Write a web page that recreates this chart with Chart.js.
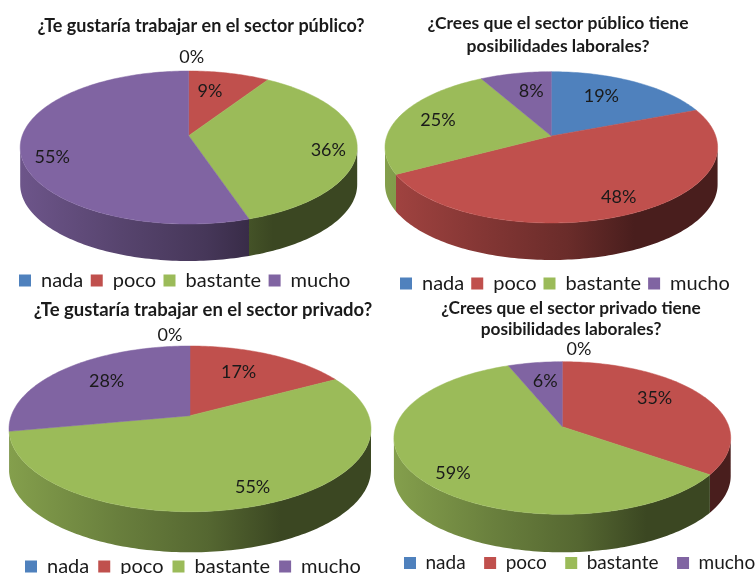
<!DOCTYPE html>
<html>
<head>
<meta charset="utf-8">
<title>Sector público y privado</title>
<script src="https://cdn.jsdelivr.net/npm/chart.js@4/dist/chart.umd.min.js"></script>
<style>
  html, body { margin: 0; padding: 0; background: #fff; }
  #wrap { position: relative; width: 756px; height: 574px; overflow: hidden; filter: blur(0.4px); }
  #wrap canvas { position: absolute; left: 0; top: 0; }
</style>
</head>
<body>
<div id="wrap">
  <canvas id="pie1" width="756" height="574"></canvas>
  <canvas id="pie2" width="756" height="574"></canvas>
  <canvas id="pie3" width="756" height="574"></canvas>
  <canvas id="pie4" width="756" height="574"></canvas>
</div>
<script>
const categories = ['nada', 'poco', 'bastante', 'mucho'];

const gustaPublico = [0, 9, 36, 55];
const creesPublico = [19, 48, 25, 8];
const gustaPrivado = [0, 17, 55, 28];
const creesPrivado = [0, 35, 59, 6];

const tituloGustaPublico = '¿Te gustaría trabajar en el sector público?';
const tituloCreesPublico = ['¿Crees que el sector público tiene', 'posibilidades laborales?'];
const tituloGustaPrivado = '¿Te gustaría trabajar en el sector privado?';
const tituloCreesPrivado = ['¿Crees que el sector privado tiene', 'posibilidades laborales?'];

const colors = ['#4f81bd', '#c0504d', '#9bbb59', '#8064a2'];

// wall shading from left to right of the pie
const wallShade = [[0, 0.85], [0.3, 0.68], [0.55, 0.55], [0.75, 0.38], [1, 0.38]];

const FONT = 'Lato, "Open Sans", sans-serif';

function shade(hex, f) {
    let n = parseInt(hex.slice(1), 16);
    let r = Math.round((n >> 16) * f);
    let g = Math.round(((n >> 8) & 255) * f);
    let b = Math.round((n & 255) * f);
    return `rgb(${r},${g},${b})`;
}

// circle of the pie seen in perspective, so the apex sits above the ellipse centre
function projection(g) {
    let k = (g.down - g.up) / (g.down + g.up);
    let A = g.rx * Math.sqrt(1 - k * k);
    let B = g.up * (1 + k);
    return {
        k: k,
        at: function (r, a) {
            let u = r * Math.cos(a);
            let v = r * Math.sin(a);
            let w = 1 - k * v;
            return [g.x + A * u / w, g.y + B * v / w];
        }
    };
}

function rimPath(ctx, p, from, to, dy) {
    let steps = Math.max(2, Math.ceil(Math.abs(to - from) / 0.02));
    for (let i = 0; i <= steps; i++) {
        let pt = p.at(1, from + (to - from) * i / steps);
        ctx.lineTo(pt[0], pt[1] + dy);
    }
}

const pie3d = {
    id: 'pie3d',
    afterLayout(chart, args, opts) {
        // place title and legend blocks
        let t = chart.titleBlock;
        let dx = opts.titleX - (t.left + t.right) / 2;
        let h = t.bottom - t.top;
        t.left += dx;
        t.right += dx;
        t.top = opts.titleY;
        t.bottom = opts.titleY + h;

        let l = chart.legend;
        let w = l.right - l.left;
        let lh = l.bottom - l.top;
        let pad = chart.options.plugins.legend.labels.padding;
        l.left = opts.legendX - pad;
        l.right = l.left + w;
        // legendY is the middle of the legend row
        l.top = opts.legendY - pad - 9.5;
        l.bottom = l.top + lh;
    },
    beforeDatasetDraw(chart, args, opts) {
        let ctx = chart.ctx;
        let g = opts.geo;
        let p = projection(g);
        let arcs = chart.getDatasetMeta(args.index).data;
        let front0 = Math.asin(p.k);
        let front1 = Math.PI - front0;

        ctx.save();
        arcs.forEach((arc, i) => {
            let from = Math.max(arc.startAngle, front0);
            let to = Math.min(arc.endAngle, front1);
            if (to <= from) return;
            let grad = ctx.createLinearGradient(g.x - g.rx, 0, g.x + g.rx, 0);
            wallShade.forEach(s => grad.addColorStop(s[0], shade(colors[i], s[1])));
            ctx.fillStyle = grad;
            ctx.beginPath();
            rimPath(ctx, p, from, to, 0);
            rimPath(ctx, p, to, from, g.depth);
            ctx.closePath();
            ctx.fill();
        });
        arcs.forEach((arc, i) => {
            if (arc.endAngle - arc.startAngle <= 0) return;
            ctx.fillStyle = colors[i];
            ctx.strokeStyle = colors[i];
            ctx.lineWidth = 0.5;
            ctx.beginPath();
            ctx.moveTo(g.x, g.y);
            rimPath(ctx, p, arc.startAngle, arc.endAngle, 0);
            ctx.closePath();
            ctx.fill();
            ctx.stroke();
        });
        ctx.restore();
        return false;
    },
    afterDatasetsDraw(chart, args, opts) {
        let ctx = chart.ctx;
        let p = projection(opts.geo);
        let values = chart.data.datasets[0].data;
        ctx.save();
        ctx.font = `18px ${FONT}`;
        ctx.fillStyle = '#1a1a1a';
        ctx.textAlign = 'center';
        ctx.textBaseline = 'middle';
        chart.getDatasetMeta(0).data.forEach((arc, i) => {
            let nudge = opts.nudges[i];
            if (!nudge) return;
            let pt = p.at(0.72, (arc.startAngle + arc.endAngle) / 2);
            ctx.fillText(values[i] + '%', pt[0] + nudge[0], pt[1] + nudge[1]);
        });
        ctx.restore();
    }
};

function makePie(id, title, values, place) {
    new Chart(document.getElementById(id).getContext('2d'), {
        type: 'pie',
        data: {
            labels: categories,
            datasets: [{ data: values, backgroundColor: colors, borderWidth: 0 }]
        },
        plugins: [pie3d],
        options: {
            responsive: false,
            animation: false,
            plugins: {
                tooltip: { enabled: false },
                title: {
                    display: true,
                    text: title,
                    color: '#1a1a1a',
                    padding: 0,
                    font: { family: FONT, size: place.titleSize, weight: 'bold', lineHeight: place.titleLine }
                },
                legend: {
                    position: 'bottom',
                    align: 'start',
                    labels: {
                        boxWidth: 12,
                        boxHeight: 12,
                        padding: place.legendGap,
                        color: '#1a1a1a',
                        font: { family: FONT, size: place.legendSize }
                    }
                },
                pie3d: place
            }
        }
    });
}

makePie('pie1', tituloGustaPublico, gustaPublico, {
    geo: { x: 188.7, y: 135.7, rx: 168.5, up: 64.7, down: 88.3, depth: 37 },
    nudges: [[3, -30.6], [-9, 2], [19, 7.5], [-16, 13]],
    titleX: 201, titleY: 15, titleSize: 18, titleLine: 1.25,
    legendX: 19, legendY: 280, legendSize: 20, legendGap: 7.5
});
makePie('pie2', tituloCreesPublico, creesPublico, {
    geo: { x: 551.3, y: 136, rx: 166.3, up: 64.3, down: 87, depth: 37 },
    nudges: [[-11, 1], [11.5, 7.4], [-3, -1], [6.6, 1.7]],
    titleX: 558, titleY: 12, titleSize: 17.5, titleLine: 1.31,
    legendX: 400, legendY: 283, legendSize: 20, legendGap: 7
});
makePie('pie3', tituloGustaPrivado, gustaPrivado, {
    geo: { x: 190, y: 415.7, rx: 181, up: 69.7, down: 96, depth: 40.6 },
    nudges: [[-20, -28.5], [-11, 1.6], [13.8, 9.7], [9, -0.4]],
    titleX: 203, titleY: 299, titleSize: 18.5, titleLine: 1.2,
    legendX: 25, legendY: 566, legendSize: 20, legendGap: 9
});
makePie('pie4', tituloCreesPrivado, creesPrivado, {
    geo: { x: 562.3, y: 426.7, rx: 168.4, up: 65, down: 87.6, depth: 38 },
    nudges: [[16.7, -29], [-9.6, -5], [-8, 11.4], [3.3, 2]],
    titleX: 571, titleY: 298.3, titleSize: 17.3, titleLine: 1.185,
    legendX: 404, legendY: 563, legendSize: 19, legendGap: 18.5
});
</script>
</body>
</html>
